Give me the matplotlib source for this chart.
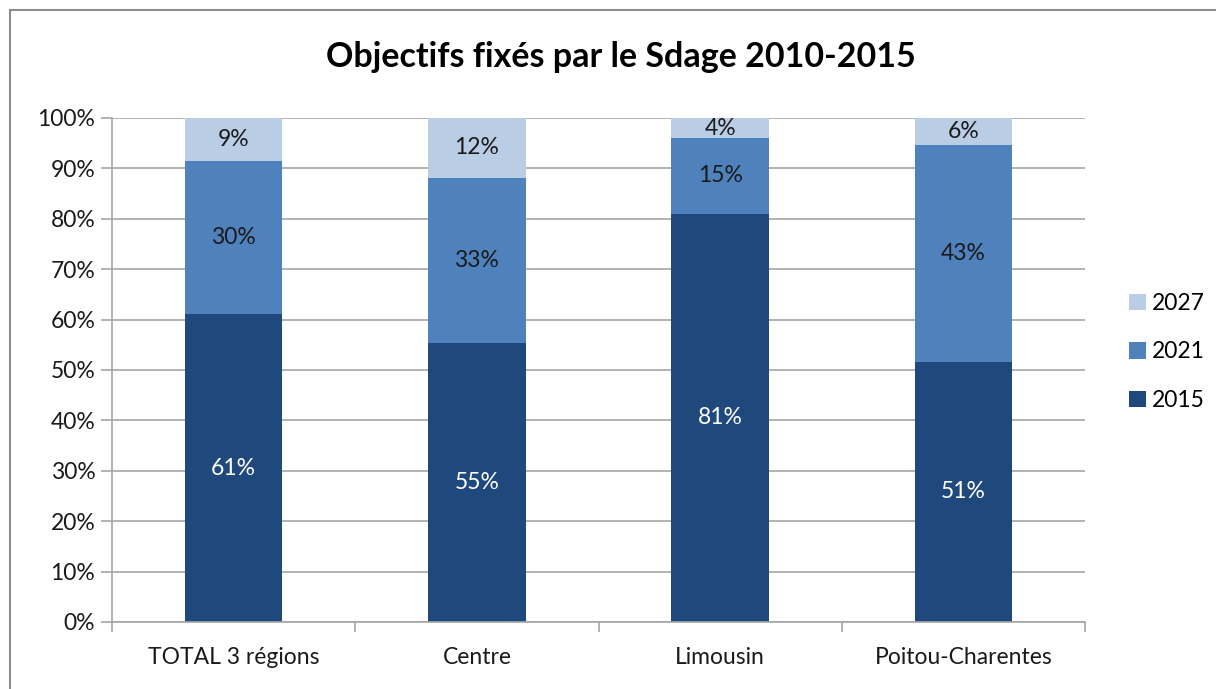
import matplotlib.pyplot as plt
import numpy as np
from matplotlib.patches import Rectangle

# values (share of water bodies, %)
regions = ["TOTAL 3 régions", "Centre", "Limousin", "Poitou-Charentes"]
years = ["2015", "2021", "2027"]
share_2015 = [61.1, 55.4, 81.0, 51.6]
share_2021 = [30.4, 32.7, 15.0, 43.0]
share_2027 = [8.5, 11.9, 4.0, 5.4]
labels_2015 = ["61%", "55%", "81%", "51%"]
labels_2021 = ["30%", "33%", "15%", "43%"]
labels_2027 = ["9%", "12%", "4%", "6%"]

COLORS = ["#1F497D", "#4F81BD", "#B9CDE5"]
TEXT_COLORS = ["white", "#1a1a1a", "#1a1a1a"]
GRID = "#A6A6A6"
FS = 16.5

plt.rcParams['font.family'] = ['Lato', 'DejaVu Sans']

W, H = 1216, 689
fig = plt.figure(figsize=(W / 100, H / 100), dpi=100)

# chart area border (cropped at right and bottom)
fig.patches.append(Rectangle((10 / W, -0.1), 1.2, 1 - 10 / H + 0.1, transform=fig.transFigure,
                             facecolor="none", edgecolor="#8C8C8C", linewidth=1.5, zorder=-1))

ax = fig.add_axes([112 / W, 1 - 622 / H, (1085 - 112) / W, (622 - 118) / H])
ax.set_facecolor("none")

x = np.arange(len(regions))
series = [share_2015, share_2021, share_2027]
labels = [labels_2015, labels_2021, labels_2027]
bottom = np.zeros(len(regions))
handles = []
for vals, lab, year, col, tcol in zip(series, labels, years, COLORS, TEXT_COLORS):
    vals = np.array(vals)
    bars = ax.bar(x, vals, 0.4, bottom=bottom, color=col, label=year, zorder=2)
    handles.append(bars)
    for xi, b, v, t in zip(x, bottom, vals, lab):
        ax.text(xi, b + v / 2, t, ha='center', va='center', color=tcol, fontsize=FS, zorder=3)
    bottom += vals

ax.set_xlim(-0.5, len(regions) - 0.5)
ax.set_ylim(0, 100)
ax.set_yticks(np.arange(0, 101, 10))
ax.set_yticklabels([f"{v}%" for v in range(0, 101, 10)], fontsize=FS, color="#1a1a1a")
ax.yaxis.grid(True, color=GRID, linewidth=1.2, zorder=0)
ax.set_axisbelow(True)

ax.set_xticks(x)
ax.set_xticklabels(regions, fontsize=FS, color="#1a1a1a")
ax.set_xticks(np.arange(-0.5, len(regions), 1), minor=True)
ax.tick_params(axis='x', which='major', length=0, pad=18)
ax.tick_params(axis='x', which='minor', length=7, color=GRID, width=1.2, direction='out')
ax.tick_params(axis='y', length=8, color=GRID, width=1.2, pad=4)

for side in ['top', 'right']:
    ax.spines[side].set_visible(False)
for side in ['left', 'bottom']:
    ax.spines[side].set_color(GRID)
    ax.spines[side].set_linewidth(1.2)

fig.text(621 / W, 1 - 57 / H, "Objectifs fixés par le Sdage 2010-2015", ha='center', va='center',
         fontsize=24.5, fontweight='bold', color="black")

leg = fig.legend(handles[::-1], years[::-1], loc='center left', bbox_to_anchor=(1129 / W, 1 - 352 / H),
                 frameon=False, fontsize=FS, handlelength=0.75, handleheight=0.75, handletextpad=0.25,
                 labelspacing=1.2, borderpad=0, borderaxespad=0)

fig.savefig("out.png", dpi=100)
